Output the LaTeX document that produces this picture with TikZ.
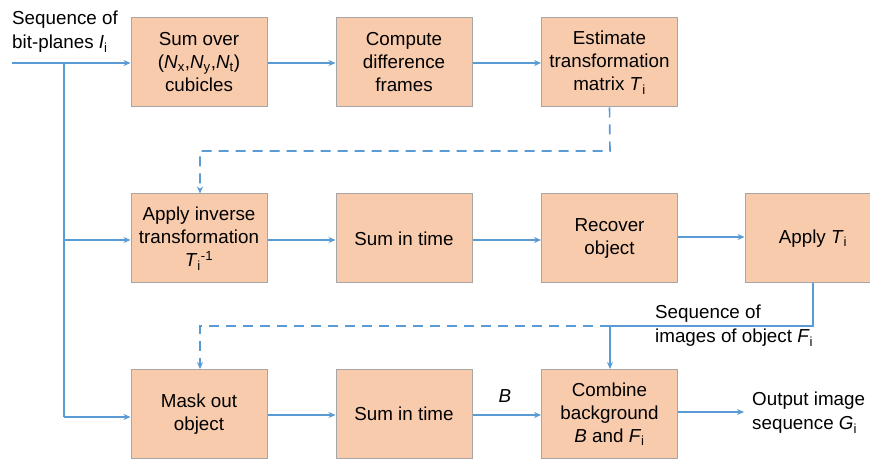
\documentclass[tikz,border=0pt]{standalone}
\usepackage{fontspec}
\setmainfont{Liberation Sans}
\usetikzlibrary{arrows.meta}
\definecolor{boxfill}{HTML}{F8CBAD}
\definecolor{boxline}{HTML}{A6A6A6}
\definecolor{conn}{HTML}{5B9BD5}
\tikzset{
  blk/.style={draw=boxline, line width=1pt, fill=boxfill, minimum width=136pt, minimum height=89pt, inner sep=0pt, align=center, font=\fontsize{18.8}{23}\selectfont},
  lbl/.style={align=left, inner sep=0pt, font=\fontsize{18.8}{24}\selectfont},
  conn/.style={draw=conn, line width=1.6pt, -{Stealth[length=7pt,width=6pt]}},
  connn/.style={draw=conn, line width=1.6pt},
  dsh/.style={dash pattern=on 10pt off 7pt}
}
\newcommand{\sub}[1]{\textsubscript{#1}}
\begin{document}
\begin{tikzpicture}[x=1pt,y=-1pt]
\clip (0,0) rectangle (870,462);
\fill[white] (0,0) rectangle (870,462);
% row 1
\node[blk] (a1) at (199,62.5) {Sum over\\(\textit{N}\sub{x},\textit{N}\sub{y},\textit{N}\sub{t})\\cubicles};
\node[blk] (a2) at (404,62.5) {Compute\\difference\\frames};
\node[blk] (a3) at (609.5,62.5) {Estimate\\transformation\\matrix \textit{T}\sub{i}};
% row 2
\node[blk] (b1) at (199,238.5) {Apply inverse\\transformation\\\textit{T}\sub{i}\textsuperscript{-1}};
\node[blk] (b2) at (404,238.5) {Sum in time};
\node[blk] (b3) at (609.5,238.5) {Recover\\object};
\node[blk] (b4) at (813,238.5) {Apply \textit{T}\sub{i}};
% row 3
\node[blk] (c1) at (199,414) {Mask out\\object};
\node[blk] (c2) at (404,414) {Sum in time};
\node[blk] (c3) at (609.5,414) {Combine\\background\\\textit{B} and \textit{F}\sub{i}};
% labels
\node[lbl, anchor=north west] (lin) at (12,11) {Sequence of\\bit-planes \textit{I}\sub{i}};
\node[lbl, anchor=north west] (lf) at (655,305) {Sequence of\\images of object \textit{F}\sub{i}};
\node[lbl, anchor=north west] (lout) at (752,392) {Output image\\sequence \textit{G}\sub{i}};
\node[lbl] (lb) at (505,396) {\textit{B}};
% coordinates
\coordinate (in) at (12,63);
\coordinate (br) at (64,63);
\coordinate (out) at (744,412);
% input and branch
\draw[conn] (in) -- (a1.west |- in);
\draw[connn] (br) -- (64,417);
\draw[conn] (64,240) -- (b1.west |- 0,240);
\draw[conn] (64,417) -- (c1.west |- 0,417);
% row arrows
\draw[conn] (a1.east |- 0,63) -- (a2.west |- 0,63);
\draw[conn] (a2.east |- 0,63) -- (a3.west |- 0,63);
\draw[conn] (b1.east |- 0,240) -- (b2.west |- 0,240);
\draw[conn] (b2.east |- 0,240) -- (b3.west |- 0,240);
\draw[conn] (b3.east |- 0,237) -- (b4.west |- 0,237);
\draw[conn] (c1.east |- 0,415) -- (c2.west |- 0,415);
\draw[conn] (c2.east |- 0,415) -- (c3.west |- 0,415);
\draw[conn] (c3.east |- 0,412) -- (out);
% dashed feedbacks
\draw[conn, dsh] (a3.south) -- (610,151) -- (200,151) -- (b1.north -| 200,0);
\draw[conn, dsh] (610,326) -- (200,326) -- (c1.north -| 200,0);
% F_i path
\draw[conn] (b4.south) -- (813,326) -- (610,326) -- (c3.north -| 610,0);
\end{tikzpicture}
\end{document}
